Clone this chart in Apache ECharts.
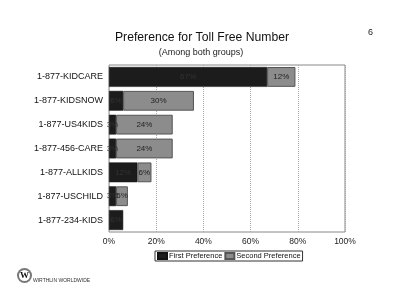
<!DOCTYPE html>
<html><head><meta charset="utf-8">
<script src="https://cdn.jsdelivr.net/npm/echarts@6/dist/echarts.min.js"></script>
<style>html,body{margin:0;padding:0;background:#fff}#c{width:400px;height:308px}</style>
</head><body><div id="c"></div>
<script>
var categories = ['1-877-KIDCARE','1-877-KIDSNOW','1-877-US4KIDS','1-877-456-CARE','1-877-ALLKIDS','1-877-USCHILD','1-877-234-KIDS'];
var firstPref = [67, 6, 3, 3, 12, 3, 6];
var secondPref = [12, 30, 24, 24, 6, 5, null];
var tickMax = 100, tickStep = 20;

var chart = echarts.init(document.getElementById('c'));
chart.setOption({
  backgroundColor: '#fff',
  animation: false,
  title: [
    {text: 'Preference for Toll Free Number', left: 197, top: 27, textAlign: 'center',
     textStyle: {fontFamily: 'Liberation Sans', fontSize: 12.2, fontWeight: 'normal', color: '#111'}},
    {text: '(Among both groups)', left: 196, top: 43, textAlign: 'center',
     textStyle: {fontFamily: 'Liberation Sans', fontSize: 9, fontWeight: 'normal', color: '#222'}},
    {text: '6', left: 363, top: 23,
     textStyle: {fontFamily: 'Liberation Sans', fontSize: 9, fontWeight: 'normal', color: '#222'}}
  ],
  grid: {left: 109, right: 55, top: 65, bottom: 76, show: true, borderColor: '#888', borderWidth: 1},
  legend: {
    data: ['First Preference', 'Second Preference'], left: 155, top: 251,
    borderColor: '#333', borderWidth: 1, padding: [1, 2], itemGap: 2,
    itemWidth: 9, itemHeight: 6, icon: 'rect',
    textStyle: {fontFamily: 'Liberation Sans', fontSize: 7.5, color: '#111', padding: [0, 0, 0, -3]}
  },
  xAxis: {
    type: 'value', min: 0, max: tickMax, interval: tickStep,
    axisLabel: {formatter: '{value}%', fontFamily: 'Liberation Sans', fontSize: 8.5, color: '#222', margin: 5},
    axisLine: {show: false}, axisTick: {show: false},
    splitLine: {show: true, lineStyle: {type: 'dotted', color: '#aaa'}}
  },
  yAxis: {
    type: 'category', data: categories, inverse: true,
    axisLine: {show: false}, axisTick: {show: false},
    axisLabel: {fontFamily: 'Liberation Sans', fontSize: 9, color: '#111', margin: 6}
  },
  series: [
    {name: 'First Preference', type: 'bar', stack: 't', data: firstPref,
     barCategoryGap: '17%',
     itemStyle: {color: '#1c1c1c', borderColor: '#111', borderWidth: 0.5},
     label: {show: true, position: 'inside', formatter: '{c}%', fontFamily: 'Liberation Sans', fontSize: 8, color: '#333'}},
    {name: 'Second Preference', type: 'bar', stack: 't', data: secondPref,
     barCategoryGap: '17%',
     itemStyle: {color: '#8c8c8c', borderColor: '#555', borderWidth: 1},
     label: {show: true, position: 'inside', formatter: '{c}%', fontFamily: 'Liberation Sans', fontSize: 8, color: '#222'}}
  ],
  graphic: [
    {type: 'circle', shape: {cx: 24.5, cy: 275.5, r: 7.5}, style: {fill: '#777'}},
    {type: 'circle', shape: {cx: 24.5, cy: 275.5, r: 5.5}, style: {fill: '#fff'}},
    {type: 'text', style: {x: 24.5, y: 276, text: 'W', fill: '#111', fontSize: 9, fontWeight: 'bold', fontFamily: 'Liberation Serif', align: 'center', verticalAlign: 'middle'}},
    {type: 'text', style: {x: 33, y: 281, text: 'WIRTHLIN WORLDWIDE', fill: '#333', fontSize: 5, fontFamily: 'Liberation Sans', verticalAlign: 'middle'}}
  ]
});
</script></body></html>
